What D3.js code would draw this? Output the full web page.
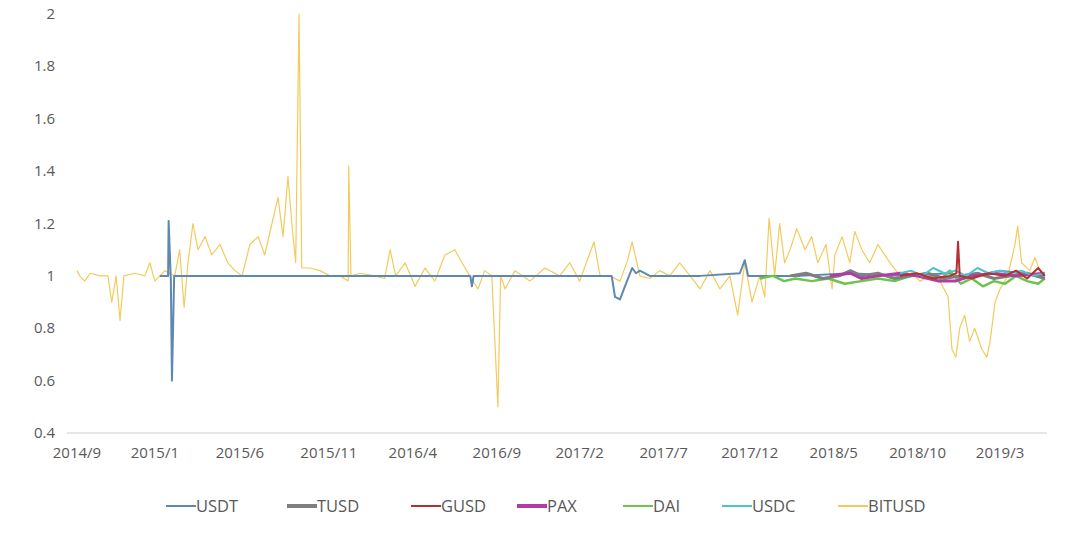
<!DOCTYPE html>
<html><head><meta charset="utf-8">
<script src="https://cdn.jsdelivr.net/npm/d3@7"></script>
<style>body{margin:0;background:#fff;font-family:"Open Sans",sans-serif}</style>
</head><body><svg id="chart" width="1080" height="538"></svg>
<script>
// days since 2014-09-01, value
var usdt = [[150,1.0],[165,1.0],[166,1.21],[170,0.98],[172,0.6],[176,1.0],[300,1.0],[600,1.0],[712,1.0],[715,0.96],[718,1.0],[968,1.0],[974,0.92],[983,0.91],[992,0.96],[1005,1.03],[1012,1.01],[1019,1.02],[1037,1.0],[1128,1.0],[1200,1.01],[1209,1.06],[1215,1.0],[1309,1.0],[1399,1.01],[1490,1.0],[1580,1.01],[1600,0.99],[1671,1.02],[1752,1.0]];
var tusd = [[1291,1.0],[1320,1.01],[1350,0.99],[1380,1.0],[1400,1.02],[1420,1.0],[1450,1.01],[1480,0.99],[1510,1.0],[1540,1.01],[1570,0.99],[1600,1.0],[1630,1.01],[1660,0.99],[1690,1.0],[1720,1.01],[1752,0.99]];
var gusd = [[1490,1.0],[1520,1.01],[1550,0.99],[1580,1.0],[1592,1.01],[1595,1.13],[1598,1.0],[1620,0.99],[1650,1.01],[1680,1.0],[1700,1.02],[1720,0.99],[1740,1.03],[1752,1.0]];
var pax = [[1363,1.0],[1400,1.01],[1420,0.99],[1450,1.0],[1490,1.01],[1520,1.0],[1560,0.98],[1590,0.98],[1620,1.0],[1660,1.01],[1700,1.0],[1752,1.01]];
var dai = [[1236,0.99],[1260,1.0],[1280,0.98],[1300,0.99],[1330,0.98],[1360,0.99],[1390,0.97],[1420,0.98],[1450,0.99],[1480,0.98],[1510,1.0],[1540,1.01],[1560,0.98],[1580,1.02],[1600,0.97],[1620,0.99],[1640,0.96],[1660,0.98],[1680,0.97],[1700,1.0],[1720,0.98],[1740,0.97],[1752,0.99]];
var usdc = [[1490,1.01],[1510,1.02],[1530,1.0],[1550,1.03],[1570,1.01],[1590,1.02],[1610,1.0],[1630,1.03],[1650,1.01],[1670,1.02],[1690,1.01],[1710,1.02],[1730,1.0],[1752,1.01]];
var bitusd = [[0,1.02],[5,1.0],[14,0.98],[24,1.01],[42,1.0],[56,1.0],[63,0.9],[71,1.0],[78,0.83],[85,1.0],[105,1.01],[123,1.0],[132,1.05],[141,0.98],[159,1.02],[177,1.0],[186,1.1],[194,0.88],[201,1.05],[210,1.2],[219,1.1],[232,1.15],[244,1.08],[259,1.12],[273,1.05],[286,1.02],[299,1.0],[313,1.12],[328,1.15],[340,1.08],[353,1.2],[364,1.3],[373,1.15],[382,1.38],[389,1.2],[396,1.05],[402,2.0],[407,1.03],[422,1.03],[440,1.02],[458,1.0],[476,1.0],[491,0.98],[492,1.42],[496,1.0],[512,1.01],[539,1.0],[557,0.99],[567,1.1],[577,1.0],[594,1.05],[612,0.96],[630,1.03],[648,0.98],[666,1.08],[684,1.1],[697,1.05],[711,1.0],[726,0.95],[738,1.02],[751,1.0],[762,0.5],[767,1.0],[775,0.95],[793,1.02],[820,0.98],[847,1.03],[874,1.0],[892,1.05],[910,0.98],[936,1.13],[947,1.0],[965,1.0],[983,0.98],[997,1.06],[1005,1.13],[1019,1.0],[1037,0.99],[1055,1.02],[1073,1.0],[1091,1.05],[1110,1.0],[1128,0.95],[1146,1.02],[1164,0.95],[1182,1.0],[1196,0.85],[1209,1.05],[1222,0.9],[1236,1.0],[1245,0.92],[1253,1.22],[1263,1.0],[1272,1.2],[1281,1.05],[1291,1.1],[1303,1.18],[1318,1.1],[1330,1.15],[1341,1.05],[1356,1.12],[1367,0.95],[1372,1.08],[1385,1.15],[1399,1.05],[1408,1.17],[1421,1.1],[1435,1.05],[1450,1.12],[1462,1.08],[1472,1.05],[1490,1.0],[1508,1.02],[1526,0.98],[1544,1.0],[1562,0.98],[1577,0.92],[1584,0.72],[1591,0.69],[1598,0.8],[1607,0.85],[1616,0.75],[1625,0.8],[1638,0.72],[1647,0.69],[1653,0.75],[1662,0.9],[1671,0.95],[1685,1.0],[1698,1.12],[1703,1.19],[1710,1.05],[1725,1.02],[1734,1.07],[1743,1.02],[1752,1.0]];

var tickDays = [0,141,295,456,608,760,910,1062,1218,1370,1522,1671];
var tickLabels = ["2014/9","2015/1","2015/6","2015/11","2016/4","2016/9","2017/2","2017/7","2017/12","2018/5","2018/10","2019/3"];
var yTicks = [0.4,0.6,0.8,1,1.2,1.4,1.6,1.8,2];

var series = [
  {name:"BITUSD", data:bitusd, color:"#f2cb5c", width:1.2},
  {name:"USDT", data:usdt, color:"#5e88b2", width:2},
  {name:"DAI", data:dai, color:"#6cc44c", width:2.5},
  {name:"TUSD", data:tusd, color:"#7f7f7f", width:3},
  {name:"PAX", data:pax, color:"#b23ca6", width:3},
  {name:"USDC", data:usdc, color:"#4cc3d3", width:2},
  {name:"GUSD", data:gusd, color:"#b5302e", width:2}
];
var legendOrder = ["USDT","TUSD","GUSD","PAX","DAI","USDC","BITUSD"];

var svg = d3.select("#chart");
var x = d3.scaleLinear().domain([-18,1756]).range([67,1047]);
var y = d3.scaleLinear().domain([0.4,2]).range([433,14]);

svg.selectAll(".yl").data(yTicks).enter().append("text")
  .attr("x",55).attr("y",function(d){return y(d)+5;})
  .attr("text-anchor","end").attr("font-size",15).attr("fill","#595959")
  .text(function(d){return d3.format("")(d);});

svg.append("line").attr("x1",67).attr("x2",1047).attr("y1",433).attr("y2",433)
  .attr("stroke","#d0d0d0").attr("stroke-width",1.2);

svg.selectAll(".xl").data(tickDays).enter().append("text")
  .attr("x",function(d){return x(d);}).attr("y",458)
  .attr("text-anchor","middle").attr("font-size",15).attr("fill","#595959")
  .text(function(d,i){return tickLabels[i];});

var line = d3.line().x(function(d){return x(d[0]);}).y(function(d){return y(d[1]);});
series.forEach(function(s){
  svg.append("path").datum(s.data).attr("d",line).attr("fill","none")
    .attr("stroke",s.color).attr("stroke-width",s.width).attr("stroke-linejoin","round");
});

var lx = [166,287,411,517,623,722,838];
legendOrder.forEach(function(n,i){
  var s = series.filter(function(t){return t.name===n;})[0];
  var g = svg.append("g").attr("transform","translate("+lx[i]+",506)");
  g.append("line").attr("x1",0).attr("x2",30).attr("stroke",s.color).attr("stroke-width",n==="TUSD"||n==="PAX"?4:2);
  g.append("text").attr("x",30).attr("y",6).attr("font-size",16.5).attr("fill","#595959").text(n);
});
</script></body></html>
